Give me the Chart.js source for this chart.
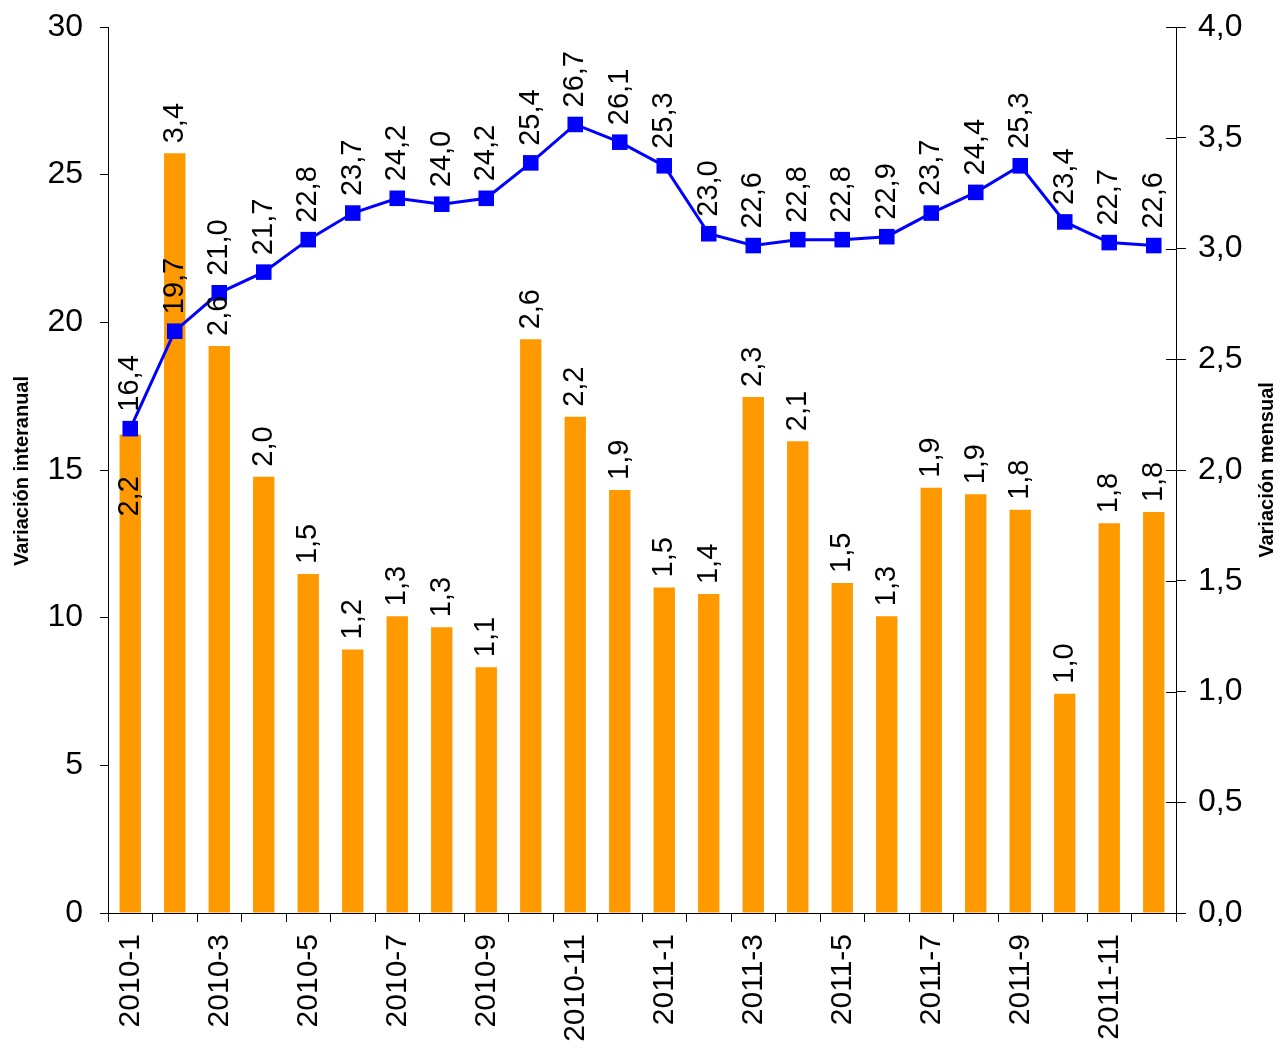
<!DOCTYPE html>
<html>
<head>
<meta charset="utf-8">
<script src="https://cdn.jsdelivr.net/npm/chart.js@4/dist/chart.umd.min.js"></script>
<style>
  html, body { margin: 0; padding: 0; background: #ffffff; }
  #wrap { width: 1279px; height: 1042px; position: relative; }
</style>
</head>
<body>
<div id="wrap"><canvas id="c" width="1279" height="1042"></canvas></div>
<script>
const categories = ['2010-1','2010-2','2010-3','2010-4','2010-5','2010-6','2010-7','2010-8','2010-9','2010-10','2010-11','2010-12',
                    '2011-1','2011-2','2011-3','2011-4','2011-5','2011-6','2011-7','2011-8','2011-9','2011-10','2011-11','2011-12'];
const interanual = [16.4, 19.7, 21.0, 21.7, 22.8, 23.7, 24.2, 24.0, 24.2, 25.4, 26.7, 26.1,
                    25.3, 23.0, 22.6, 22.8, 22.8, 22.9, 23.7, 24.4, 25.3, 23.4, 22.7, 22.6];
const mensual = [2.16, 3.43, 2.56, 1.97, 1.53, 1.19, 1.34, 1.29, 1.11, 2.59, 2.24, 1.91,
                 1.47, 1.44, 2.33, 2.13, 1.49, 1.34, 1.92, 1.89, 1.82, 0.99, 1.76, 1.81];
const leftTicks = [0, 5, 10, 15, 20, 25, 30];
const rightTicks = [0, 0.5, 1.0, 1.5, 2.0, 2.5, 3.0, 3.5, 4.0];
const leftTitle = 'Variación interanual';
const rightTitle = 'Variación mensual';

const FONT = '"Liberation Sans", Arial, Helvetica, sans-serif';
const fmt1 = v => v.toFixed(1).replace('.', ',');

function drawRotated(ctx, txt, x, y) {
  ctx.save();
  ctx.translate(x, y);
  ctx.rotate(-Math.PI / 2);
  ctx.fillText(txt, 0, 0);
  ctx.restore();
}

const labelPlugin = {
  id: 'labels',
  afterDatasetsDraw(chart) {
    const ctx = chart.ctx;
    ctx.save();
    ctx.font = '29px ' + FONT;
    ctx.fillStyle = '#000';
    ctx.textBaseline = 'middle';
    ctx.textAlign = 'left';
    const barMeta = chart.getDatasetMeta(0);
    barMeta.data.forEach((el, i) => {
      const txt = fmt1(mensual[i]);
      if (i === 0) drawRotated(ctx, txt, el.x, el.y + 82);
      else drawRotated(ctx, txt, el.x, el.y - 10);
    });
    const lineMeta = chart.getDatasetMeta(1);
    lineMeta.data.forEach((el, i) => {
      drawRotated(ctx, fmt1(interanual[i]), el.x, el.y - 17);
    });
    ctx.restore();
  },
  afterDraw(chart) {
    const ctx = chart.ctx;
    const y1 = chart.scales.y1;
    const area = chart.chartArea;
    ctx.save();
    ctx.strokeStyle = '#000';
    ctx.lineWidth = 1;
    y1.ticks.forEach(t => {
      const yy = Math.round(y1.getPixelForValue(t.value)) + 0.5;
      ctx.beginPath();
      ctx.moveTo(area.right - 10, yy);
      ctx.lineTo(area.right, yy);
      ctx.stroke();
    });
    ctx.font = 'bold 20px ' + FONT;
    ctx.fillStyle = '#000';
    ctx.textAlign = 'center';
    ctx.textBaseline = 'middle';
    const midY = (area.top + area.bottom) / 2;
    drawRotated(ctx, rightTitle, 1267, midY);
    drawRotated(ctx, leftTitle, 22, midY + 1);
    ctx.restore();
  }
};

new Chart(document.getElementById('c'), {
  data: {
    labels: categories,
    datasets: [
      {
        type: 'bar',
        label: rightTitle,
        data: mensual,
        yAxisID: 'y1',
        backgroundColor: '#FF9900',
        borderWidth: 0,
        barPercentage: 0.48,
        categoryPercentage: 1.0,
        order: 2
      },
      {
        type: 'line',
        label: leftTitle,
        data: interanual,
        yAxisID: 'y',
        borderColor: '#0000FF',
        backgroundColor: '#0000FF',
        borderWidth: 3,
        pointStyle: 'rect',
        pointRadius: 11,
        pointHoverRadius: 11,
        pointBackgroundColor: '#0000FF',
        pointBorderWidth: 0,
        tension: 0,
        order: 1
      }
    ]
  },
  options: {
    responsive: false,
    animation: false,
    events: [],
    layout: { padding: { top: 27, left: 0, right: 0, bottom: 0 } },
    plugins: {
      legend: { display: false },
      tooltip: { enabled: false },
      title: { display: false }
    },
    scales: {
      x: {
        type: 'category',
        offset: true,
        grid: { display: true, drawOnChartArea: false, drawTicks: true, tickLength: 9, offset: true, color: '#000', tickColor: '#000' },
        border: { display: true, color: '#000', width: 1 },
        ticks: {
          autoSkip: false,
          maxRotation: 90,
          minRotation: 90,
          padding: 12,
          color: '#000',
          font: { size: 30, family: FONT },
          callback: function(v, i) { return i % 2 === 0 ? categories[i] : ''; }
        },
        afterFit(s) { s.height = 129; s.paddingLeft = 0; s.paddingRight = 0; }
      },
      y: {
        type: 'linear',
        position: 'left',
        min: 0,
        max: 30,
        afterBuildTicks(s) { s.ticks = leftTicks.map(v => ({ value: v })); },
        grid: { display: true, drawOnChartArea: false, drawTicks: true, tickLength: 8, color: '#000', tickColor: '#000' },
        border: { display: true, color: '#000', width: 1 },
        ticks: {
          padding: 17,
          color: '#000',
          font: { size: 32, family: FONT },
          callback: v => String(v)
        },
        afterFit(s) { s.width = 108; s.paddingTop = 0; s.paddingBottom = 0; }
      },
      y1: {
        type: 'linear',
        position: 'right',
        min: 0,
        max: 4,
        afterBuildTicks(s) { s.ticks = rightTicks.map(v => ({ value: v })); },
        grid: { display: true, drawOnChartArea: false, drawTicks: true, tickLength: 10, color: '#000', tickColor: '#000' },
        border: { display: true, color: '#000', width: 1 },
        ticks: {
          padding: 12,
          color: '#000',
          font: { size: 32, family: FONT },
          callback: v => fmt1(v)
        },
        afterFit(s) { s.width = 103; s.paddingTop = 0; s.paddingBottom = 0; }
      }
    }
  },
  plugins: [labelPlugin]
});
</script>
</body>
</html>
